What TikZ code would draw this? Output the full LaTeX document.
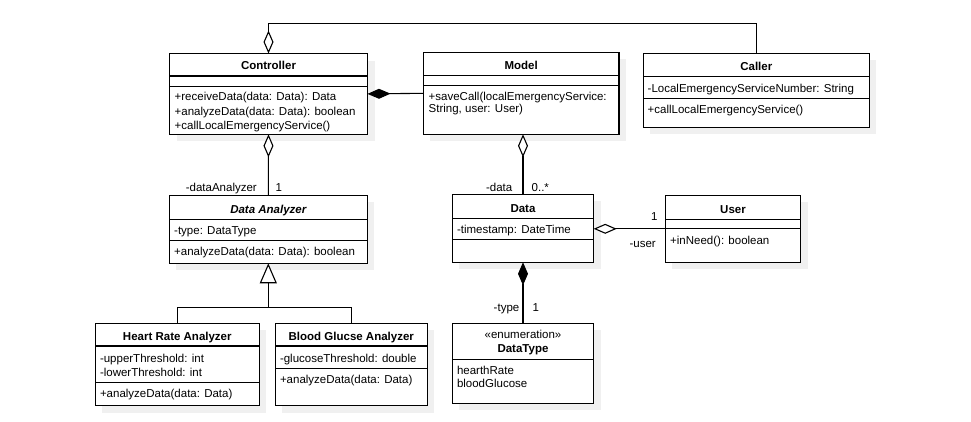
\documentclass[tikz,border=0pt]{standalone}
\usepackage{fontspec}
\setmainfont{Liberation Sans}
\usetikzlibrary{arrows.meta}
\definecolor{shadowc}{RGB}{240,240,240}
\tikzset{
  ln/.style={line width=1.1pt, draw=black},
  box/.style={ln, fill=white, inner sep=0pt, outer sep=0pt, anchor=north west},
  txt/.style={inner sep=0pt, font=\fontsize{11.5}{13.8}\selectfont, anchor=base west},
  nm/.style={inner sep=0pt, font=\fontsize{11.5}{13.8}\selectfont\bfseries, anchor=base},
  agg/.style={ln, -{Diamond[length=23pt,width=10pt,fill=white,line width=1.1pt]}},
  comp/.style={ln, -{Diamond[length=23pt,width=10pt,fill=black]}},
  gen/.style={ln, -{Triangle[length=20pt,width=17pt,fill=white,line width=1.1pt]}},
}
\newcommand\umlbox[5]{%
  \fill[shadowc] (#2+7,#3+7) rectangle ++(#4,#5);
  \node[box, minimum width=#4pt, minimum height=#5pt] (#1) at (#2,#3) {};
}
\newcommand\umlsep[3]{\draw[ln] (#1,#3) -- (#2,#3);}
\begin{document}
\begin{tikzpicture}[x=1pt,y=-1pt]
\useasboundingbox (0,0) rectangle (971,421);
% boxes
\umlbox{ctrl}{169.5}{53.5}{198}{80.8}
\umlsep{169.5}{367.5}{76}\umlsep{169.5}{367.5}{86.7}
\umlbox{model}{423.3}{52.3}{195.7}{82}
\umlsep{423.3}{619}{75.3}\umlsep{423.3}{619}{85.3}
\umlbox{caller}{643.3}{53.3}{226}{74}
\umlsep{643.3}{869.3}{76.7}\umlsep{643.3}{869.3}{98.7}
\umlbox{da}{169.3}{195.3}{198}{68}
\umlsep{169.3}{367.3}{219.3}\umlsep{169.3}{367.3}{240.7}
\umlbox{data}{452.3}{194.3}{141.4}{68}
\umlsep{452.3}{593.7}{218.3}\umlsep{452.3}{593.7}{239.3}
\umlbox{user}{665.3}{195.3}{135.4}{67}
\umlsep{665.3}{800.7}{219.3}\umlsep{665.3}{800.7}{228.3}
\umlbox{hra}{95.3}{323.3}{164}{82.4}
\umlsep{95.3}{259.3}{346}\umlsep{95.3}{259.3}{382.3}
\umlbox{bga}{275.3}{323.3}{152}{82.4}
\umlsep{275.3}{427.3}{346}\umlsep{275.3}{427.3}{368.3}
\umlbox{dt}{452.3}{323.3}{141.4}{80}
\umlsep{452.3}{593.7}{359.3}
% texts
\node[nm] (ctrlname) at (268.5,69) {Controller};
\node[txt] (c1) at (174.5,100.9) {+receiveData(data: Data): Data};
\node[txt] (c2) at (174.5,115.2) {+analyzeData(data: Data): boolean};
\node[txt] (c3) at (174.5,129.5) {+callLocalEmergencyService()};
\node[nm] (modelname) at (521.2,69) {Model};
\node[txt] (m1) at (428.5,100.2) {+saveCall(localEmergencyService:};
\node[txt] (m2) at (428.5,112.5) {String, user: User)};
\node[nm] (callername) at (756.3,70) {Caller};
\node[txt] (k1) at (647.5,92.8) {-LocalEmergencyServiceNumber: String};
\node[txt] (k2) at (647.5,113.1) {+callLocalEmergencyService()};
\node[nm, font=\fontsize{11.5}{13.8}\selectfont\bfseries\itshape] (daname) at (268.3,213.4) {Data Analyzer};
\node[txt] (a1) at (174,234.8) {-type: DataType};
\node[txt] (a2) at (174,255.8) {+analyzeData(data: Data): boolean};
\node[nm] (dataname) at (523,212.4) {Data};
\node[txt] (d1) at (456.8,233.4) {-timestamp: DateTime};
\node[nm] (username) at (733,213.4) {User};
\node[txt] (u1) at (670,244.4) {+inNeed(): boolean};
\node[nm] (hraname) at (177.3,340.1) {Heart Rate Analyzer};
\node[txt] (h1) at (99.8,362.4) {-upperThreshold: int};
\node[txt] (h2) at (99.8,376.4) {-lowerThreshold: int};
\node[txt] (h3) at (99.8,397.4) {+analyzeData(data: Data)};
\node[nm] (bganame) at (351.3,340.1) {Blood Glucse Analyzer};
\node[txt] (b1) at (279.8,362.4) {-glucoseThreshold: double};
\node[txt] (b2) at (279.8,383.4) {+analyzeData(data: Data)};
\node[txt, anchor=base] (dtst) at (523,338.4) {«enumeration»};
\node[nm] (dtname) at (523,352.4) {DataType};
\node[txt] (e1) at (456.8,374.1) {hearthRate};
\node[txt] (e2) at (456.8,387.8) {bloodGlucose};
% connectors
\coordinate (topy) at (0,23.3);
\draw[agg] (caller.north) |- (topy -| ctrl.north) -- (ctrl.north);
\draw[comp] (model.west) -- (ctrl.east);
\draw[agg] (da.north) -- (ctrl.south);
\draw[agg] (data.north) -- (data.north |- model.south);
\draw[agg] (user.west) -- (user.west -| data.east);
\draw[comp] (dt.north) -- (data.south);
\coordinate (bus) at (268.3,307.7);
\draw[ln] (hra.north) |- (bus);
\draw[ln] (bga.north) |- (bus);
\draw[gen] (bus) -- (da.south);
% role labels
\node[txt, anchor=base east] (l1) at (257,191.8) {-dataAnalyzer};
\node[txt] (l2) at (275.5,191.8) {1};
\node[txt, anchor=base east] (l3) at (512.5,191.2) {-data};
\node[txt] (l4) at (531.5,191.2) {0..*};
\node[txt] (l5) at (651,220.8) {1};
\node[txt, anchor=base east] (l6) at (656,247.5) {-user};
\node[txt, anchor=base east] (l7) at (519.5,311.8) {-type};
\node[txt] (l8) at (532.5,311.8) {1};
\end{tikzpicture}
\end{document}
